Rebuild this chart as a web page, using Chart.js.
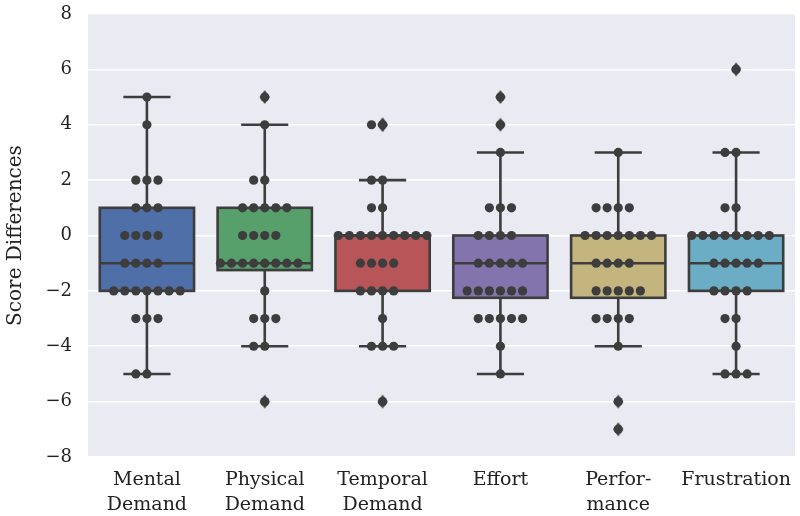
<!DOCTYPE html>
<html>
<head>
<meta charset="utf-8">
<script src="https://cdn.jsdelivr.net/npm/chart.js@4.4.1/dist/chart.umd.min.js"></script>
<style>
  html, body { margin: 0; padding: 0; background: #fff; }
  #wrap { width: 800px; height: 516px; }
</style>
</head>
<body>
<div id="wrap"><canvas id="boxChart"></canvas></div>
<script>
// categories (x axis) and the raw score differences of each one
var categories = [["Mental", "Demand"], ["Physical", "Demand"], ["Temporal", "Demand"], "Effort", ["Perfor-", "mance"], "Frustration"];

var mentalDemand   = [5, 4, 2, 2, 2, 1, 1, 1, 0, 0, 0, 0, -1, -1, -1, -1, -2, -2, -2, -2, -2, -2, -2, -3, -3, -3, -5, -5];
var physicalDemand = [5, 4, 2, 2, 1, 1, 1, 1, 1, 0, 0, 0, 0, -1, -1, -1, -1, -1, -1, -1, -1, -2, -3, -3, -3, -4, -4, -6];
var temporalDemand = [4, 4, 2, 2, 1, 1, 0, 0, 0, 0, 0, 0, 0, 0, 0, -1, -1, -1, -1, -2, -2, -2, -2, -3, -4, -4, -4, -6];
var effort         = [5, 4, 3, 1, 1, 1, 0, 0, 0, 0, -1, -1, -1, -1, -1, -2, -2, -2, -2, -2, -2, -3, -3, -3, -3, -3, -4, -5];
var performance    = [3, 1, 1, 1, 1, 0, 0, 0, 0, 0, 0, 0, -1, -1, -1, -1, -2, -2, -2, -2, -2, -3, -3, -3, -3, -4, -6, -7];
var frustration    = [6, 3, 3, 1, 1, 0, 0, 0, 0, 0, 0, 0, 0, -1, -1, -1, -1, -1, -2, -2, -2, -2, -3, -3, -4, -5, -5, -5];

var yTicks = [-8, -6, -4, -2, 0, 2, 4, 6, 8];

var boxColors = ["#4e6fa8", "#58a06b", "#b85559", "#8474ad", "#c4b57f", "#6aadc4"];
var darkGray = "#3d3d3d";
var swarmStep = 0.094;   // horizontal gap between swarm dots, in category units

var groups = [mentalDemand, physicalDemand, temporalDemand, effort, performance, frustration];

// numpy style linear percentile
function percentile(sorted, p) {
  var pos = (sorted.length - 1) * p;
  var lo = Math.floor(pos), hi = Math.ceil(pos);
  return sorted[lo] + (sorted[hi] - sorted[lo]) * (pos - lo);
}

var stats = groups.map(function(vals) {
  var s = vals.slice().sort(function(a, b) { return a - b; });
  var q1 = percentile(s, 0.25), med = percentile(s, 0.5), q3 = percentile(s, 0.75);
  var iqr = q3 - q1;
  var inside = s.filter(function(v) { return v >= q1 - 1.5 * iqr && v <= q3 + 1.5 * iqr; });
  var outliers = s.filter(function(v) { return v < q1 - 1.5 * iqr || v > q3 + 1.5 * iqr; });
  return { q1: q1, med: med, q3: q3, lo: inside[0], hi: inside[inside.length - 1], outliers: outliers };
});

// swarm dots: points with the same value spread sideways around the centre
var swarmPoints = [];
groups.forEach(function(vals, i) {
  var counts = {};
  vals.forEach(function(v) { counts[v] = (counts[v] || 0) + 1; });
  Object.keys(counts).forEach(function(k) {
    var n = counts[k];
    for (var j = -Math.floor(n / 2); j <= Math.ceil(n / 2) - 1; j++) {
      swarmPoints.push({ x: i + j * swarmStep, y: Number(k) });
    }
  });
});

var flierPoints = [];
stats.forEach(function(s, i) {
  s.outliers.forEach(function(v) { flierPoints.push({ x: i, y: v }); });
});

// thin diamond marker for the fliers
var diamond = document.createElement("canvas");
diamond.width = 12; diamond.height = 16;
var dctx = diamond.getContext("2d");
dctx.fillStyle = darkGray;
dctx.beginPath();
dctx.moveTo(6, 1); dctx.lineTo(11, 8); dctx.lineTo(6, 15); dctx.lineTo(1, 8);
dctx.closePath(); dctx.fill();

var plotBackground = {
  id: "plotBackground",
  beforeDraw: function(chart) {
    var a = chart.chartArea, ctx = chart.ctx;
    ctx.save();
    ctx.fillStyle = "#eaeaf2";
    ctx.fillRect(a.left, a.top, a.right - a.left, a.bottom - a.top);
    ctx.restore();
  }
};

// box outlines, whiskers, caps and median lines, drawn right after the box fills
var whiskers = {
  id: "whiskers",
  afterDatasetDraw: function(chart, args) {
    if (args.index !== 0) return;
    var ctx = chart.ctx, xs = chart.scales.xs, y = chart.scales.y;
    ctx.save();
    ctx.strokeStyle = darkGray;
    ctx.lineWidth = 2.6;
    stats.forEach(function(s, i) {
      var cx = xs.getPixelForValue(i);
      var capL = xs.getPixelForValue(i - 0.2), capR = xs.getPixelForValue(i + 0.2);
      var boxL = xs.getPixelForValue(i - 0.4), boxR = xs.getPixelForValue(i + 0.4);
      var top = y.getPixelForValue(s.q3), bottom = y.getPixelForValue(s.q1);
      ctx.strokeRect(boxL, top, boxR - boxL, bottom - top);
      ctx.beginPath();
      ctx.moveTo(cx, top); ctx.lineTo(cx, y.getPixelForValue(s.hi));
      ctx.moveTo(cx, bottom); ctx.lineTo(cx, y.getPixelForValue(s.lo));
      ctx.moveTo(capL, y.getPixelForValue(s.hi)); ctx.lineTo(capR, y.getPixelForValue(s.hi));
      ctx.moveTo(capL, y.getPixelForValue(s.lo)); ctx.lineTo(capR, y.getPixelForValue(s.lo));
      ctx.moveTo(boxL, y.getPixelForValue(s.med)); ctx.lineTo(boxR, y.getPixelForValue(s.med));
      ctx.stroke();
    });
    ctx.restore();
  }
};

var serif = "'DejaVu Serif', serif";

var ctx = document.getElementById("boxChart").getContext("2d");
var chart = new Chart(ctx, {
  type: "bar",
  data: {
    labels: categories,
    datasets: [{
      type: "bar",
      data: stats.map(function(s) { return [s.q1, s.q3]; }),
      backgroundColor: boxColors,
      borderWidth: 0,
      grouped: false,
      barPercentage: 0.8,
      categoryPercentage: 1.0,
      order: 3
    }, {
      type: "scatter",
      data: swarmPoints,
      xAxisID: "xs",
      yAxisID: "y",
      pointRadius: 4.6,
      pointBackgroundColor: darkGray,
      pointBorderWidth: 0,
      order: 2
    }, {
      type: "scatter",
      data: flierPoints,
      xAxisID: "xs",
      yAxisID: "y",
      pointStyle: diamond,
      order: 1
    }]
  },
  options: {
    responsive: true,
    maintainAspectRatio: false,
    animation: false,
    layout: { padding: { top: 14, right: 0, left: 0, bottom: 0 } },
    plugins: { legend: { display: false }, tooltip: { enabled: false } },
    scales: {
      x: {
        offset: true,
        grid: { display: false },
        border: { display: false },
        ticks: { color: "#222", padding: 3, font: { family: serif, size: 19, lineHeight: 1.3 } },
        afterFit: function(s) { s.height = 59; }
      },
      xs: { type: "linear", min: -0.5, max: 5.5, offset: false, grid: { offset: false }, display: false },
      y: {
        min: yTicks[0],
        max: yTicks[yTicks.length - 1],
        afterBuildTicks: function(s) { s.ticks = yTicks.map(function(v) { return { value: v }; }); },
        grid: { color: "#ffffff", lineWidth: 1.6, drawTicks: false },
        border: { display: false },
        ticks: {
          color: "#222",
          padding: 16,
          font: { family: serif, size: 18 },
          callback: function(v) { return v < 0 ? "\u2212" + Math.abs(v) : String(v); }
        },
        title: { display: true, text: "Score Differences", color: "#222", padding: { top: 4, bottom: 0 }, font: { family: serif, size: 20 } },
        afterFit: function(s) { s.width = 88; s.paddingTop = 0; s.paddingBottom = 0; }
      }
    }
  },
  plugins: [plotBackground, whiskers]
});
</script>
</body>
</html>
